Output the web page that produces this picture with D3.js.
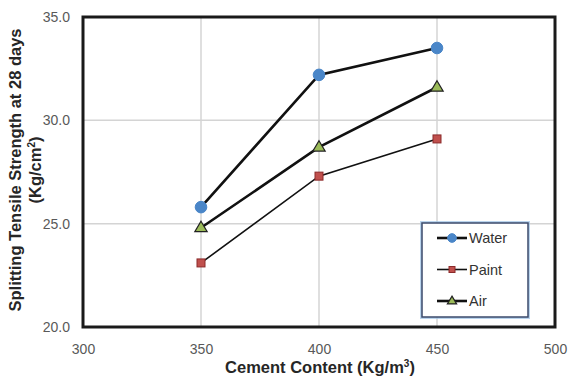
<!DOCTYPE html>
<html>
<head>
<meta charset="utf-8">
<script src="https://cdn.jsdelivr.net/npm/d3@7"></script>
<style>
  html, body { margin: 0; padding: 0; background: #fff; }
  svg text { font-family: "Liberation Sans", Arial, sans-serif; }
</style>
</head>
<body>
<svg id="chart" width="568" height="383"></svg>
<script>
// Cement content (Kg/m3) on x, splitting tensile strength at 28 days (Kg/cm2) on y
const cementContent = [350, 400, 450];
const waterCuring = [25.8, 32.2, 33.5];
const paintCuring = [23.1, 27.3, 29.1];
const airCuring = [24.8, 28.7, 31.6];
const xTicks = [300, 350, 400, 450, 500];
const yTicks = [20, 25, 30, 35];

const series = [
  { name: "Water", values: waterCuring, marker: "circle", fill: "#4a86c8", stroke: "#4a86c8", width: 2.6 },
  { name: "Paint", values: paintCuring, marker: "square", fill: "#c0504d", stroke: "#8b2a2a", width: 1.6 },
  { name: "Air", values: airCuring, marker: "triangle", fill: "#9bbb59", stroke: "#222", width: 2.6 }
];

const svg = d3.select("#chart");
const plot = { left: 83, right: 555, top: 17, bottom: 327 };

const x = d3.scaleLinear().domain([300, 500]).range([plot.left, plot.right]);
const y = d3.scaleLinear().domain([20, 35]).range([plot.bottom, plot.top]);

// gridlines
const grid = svg.append("g");
grid.selectAll("line.v").data(xTicks.slice(1, -1)).join("line")
  .attr("x1", d => x(d)).attr("x2", d => x(d))
  .attr("y1", plot.top).attr("y2", plot.bottom)
  .attr("stroke", "#d4d4d4").attr("stroke-width", 1.5);
grid.selectAll("line.h").data(yTicks.slice(1, -1)).join("line")
  .attr("x1", plot.left).attr("x2", plot.right)
  .attr("y1", d => y(d)).attr("y2", d => y(d))
  .attr("stroke", "#d4d4d4").attr("stroke-width", 1.5);

// axes (labels only; frame is drawn separately)
const xAxis = svg.append("g").attr("transform", `translate(0,${plot.bottom})`)
  .call(d3.axisBottom(x).tickValues(xTicks).tickSize(0).tickPadding(17).tickFormat(d3.format("d")));
const yAxis = svg.append("g").attr("transform", `translate(${plot.left},0)`)
  .call(d3.axisLeft(y).tickValues(yTicks).tickSize(0).tickPadding(13).tickFormat(d3.format(".1f")));
[xAxis, yAxis].forEach(a => {
  a.select(".domain").remove();
  a.selectAll("text").attr("fill", "#595959").attr("font-size", 14)
    .attr("font-family", "'Liberation Sans', Arial, sans-serif");
});

// frame
svg.append("rect")
  .attr("x", plot.left).attr("y", plot.top)
  .attr("width", plot.right - plot.left).attr("height", plot.bottom - plot.top)
  .attr("fill", "none").attr("stroke", "#1a1a1a").attr("stroke-width", 3);

// lines
const line = d3.line().x((d, i) => x(cementContent[i])).y(d => y(d));
series.forEach(s => {
  svg.append("path").datum(s.values)
    .attr("d", line).attr("fill", "none")
    .attr("stroke", "#111").attr("stroke-width", s.width);
});

function drawMarker(g, type, cx, cy, s, scale) {
  const k = scale || 1;
  if (type === "circle") {
    g.append("circle").attr("cx", cx).attr("cy", cy).attr("r", 5.8 * k)
      .attr("fill", s.fill).attr("stroke", s.stroke).attr("stroke-width", 1);
  } else if (type === "square") {
    const h = 4 * k;
    g.append("rect").attr("x", cx - h).attr("y", cy - h).attr("width", 2 * h).attr("height", 2 * h)
      .attr("fill", s.fill).attr("stroke", s.stroke).attr("stroke-width", 1);
  } else {
    const r = 6.5 * k;
    const pts = [[cx, cy - r], [cx + r * 0.95, cy + r * 0.6], [cx - r * 0.95, cy + r * 0.6]];
    g.append("polygon").attr("points", pts.map(p => p.join(",")).join(" "))
      .attr("fill", s.fill).attr("stroke", s.stroke).attr("stroke-width", 1.2);
  }
}

series.forEach(s => {
  const g = svg.append("g");
  s.values.forEach((v, i) => drawMarker(g, s.marker, x(cementContent[i]), y(v), s));
});

// legend
const legend = svg.append("g");
legend.append("rect").attr("x", 422).attr("y", 223).attr("width", 106).attr("height", 94)
  .attr("fill", "#fff").attr("stroke", "#9dc3e6").attr("stroke-width", 4).attr("opacity", 0.7);
legend.append("rect").attr("x", 422).attr("y", 223).attr("width", 106).attr("height", 94)
  .attr("fill", "#fff").attr("stroke", "#3b4a6b").attr("stroke-width", 1.5);
series.forEach((s, i) => {
  const ly = 238 + i * 31.5;
  legend.append("line").attr("x1", 437).attr("x2", 467).attr("y1", ly).attr("y2", ly)
    .attr("stroke", "#111").attr("stroke-width", s.width);
  drawMarker(legend, s.marker, 452, ly, s, 0.75);
  legend.append("text").attr("x", 469).attr("y", ly).attr("dy", "0.36em")
    .attr("font-size", 14.5).attr("fill", "#333").text(s.name);
});

// axis titles
svg.append("text").attr("x", 320).attr("y", 373).attr("text-anchor", "middle")
  .attr("font-size", 16.5).attr("font-weight", "bold").attr("fill", "#262626")
  .html('Cement Content (Kg/m<tspan font-size="10" dy="-6">3</tspan><tspan dy="6">)</tspan>');

const yTitle = svg.append("g").attr("transform", "translate(0,170) rotate(-90)");
yTitle.append("text").attr("x", 0).attr("y", 21).attr("text-anchor", "middle")
  .attr("font-size", 16.5).attr("font-weight", "bold").attr("fill", "#262626")
  .text("Splitting Tensile Strength at 28 days");
yTitle.append("text").attr("x", 0).attr("y", 41).attr("text-anchor", "middle")
  .attr("font-size", 16.5).attr("font-weight", "bold").attr("fill", "#262626")
  .html('(Kg/cm<tspan font-size="10" dy="-6">2</tspan><tspan dy="6">)</tspan>');
</script>
</body>
</html>
